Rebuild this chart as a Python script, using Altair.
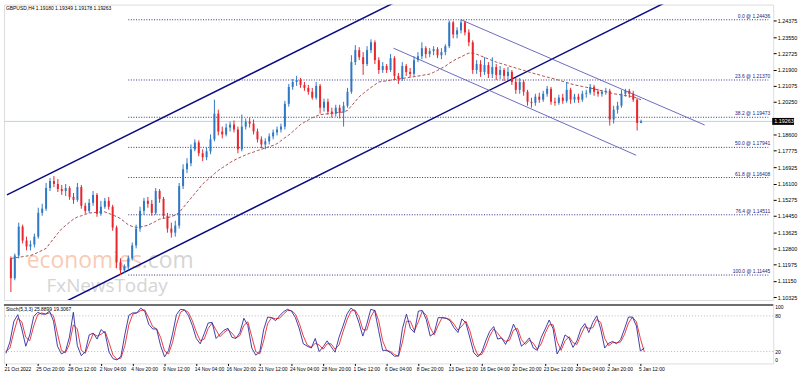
import json
import altair as alt
import pandas as pd

# ---------------- data ----------------
OPEN = [1.1229,1.1128,1.1244,1.1391,1.1320,1.1290,1.1300,1.1340,1.1461,1.1482,
1.1587,1.1623,1.1608,1.1582,1.1572,1.1587,1.1542,1.1527,1.1592,1.1497,
1.1471,1.1512,1.1552,1.1456,1.1492,1.1522,1.1492,1.1386,1.1209,1.1169,
1.1189,1.1229,1.1295,1.1381,1.1471,1.1522,1.1507,1.1461,1.1572,1.1532,
1.1446,1.1381,1.1360,1.1396,1.1597,1.1683,1.1713,1.1784,1.1819,1.1764,
1.1744,1.1774,1.1835,1.1966,1.1875,1.1860,1.1895,1.1910,1.1885,1.1784,
1.1900,1.1925,1.1915,1.1875,1.1835,1.1809,1.1825,1.1850,1.1870,1.1885,
1.1900,1.2016,1.2102,1.2127,1.2137,1.2112,1.2097,1.2077,1.2047,1.2107,
1.1996,1.2026,1.1976,1.1966,1.1996,1.1971,1.2006,1.2077,1.2228,1.2289,
1.2253,1.2218,1.2289,1.2329,1.2238,1.2188,1.2208,1.2188,1.2248,1.2158,
1.2142,1.2208,1.2178,1.2168,1.2238,1.2258,1.2299,1.2269,1.2284,1.2294,
1.2263,1.2279,1.2309,1.2430,1.2369,1.2390,1.2430,1.2379,1.2329,1.2188,
1.2218,1.2178,1.2213,1.2168,1.2203,1.2163,1.2188,1.2158,1.2178,1.2127,
1.2087,1.2127,1.2077,1.2026,1.2021,1.2052,1.2037,1.2067,1.2092,1.2026,
1.2021,1.2047,1.2031,1.2087,1.2037,1.2052,1.2037,1.2067,1.2072,1.2102,
1.2077,1.2067,1.2077,1.2082,1.1936,1.1986,1.2006,1.2067,1.2082,1.2067,
1.2037,1.19180]
HIGH = [1.1239,1.1254,1.1411,1.1401,1.1340,1.1320,1.1355,1.1487,1.1507,1.1613,
1.1638,1.1648,1.1633,1.1603,1.1608,1.1597,1.1562,1.1613,1.1603,1.1512,
1.1532,1.1572,1.1562,1.1522,1.1537,1.1542,1.1502,1.1396,1.1229,1.1199,
1.1244,1.1310,1.1401,1.1492,1.1537,1.1542,1.1527,1.1587,1.1582,1.1542,
1.1461,1.1411,1.1421,1.1613,1.1708,1.1739,1.1809,1.1835,1.1830,1.1784,
1.1794,1.1860,1.2037,1.1986,1.1900,1.1915,1.1925,1.1931,1.1900,1.1961,
1.1941,1.1946,1.1936,1.1890,1.1850,1.1840,1.1865,1.1885,1.1900,1.1915,
1.2031,1.2117,1.2142,1.2158,1.2147,1.2127,1.2112,1.2097,1.2127,1.2117,
1.2042,1.2042,1.1996,1.2011,1.2011,1.2026,1.2097,1.2263,1.2314,1.2304,
1.2279,1.2309,1.2344,1.2339,1.2253,1.2228,1.2218,1.2269,1.2258,1.2173,
1.2228,1.2218,1.2198,1.2258,1.2279,1.2329,1.2309,1.2299,1.2309,1.2304,
1.2299,1.2319,1.2440,1.2438,1.2405,1.24436,1.2438,1.2395,1.2339,1.2238,
1.2238,1.2253,1.2228,1.2253,1.2218,1.2208,1.2198,1.2203,1.2188,1.2147,
1.2147,1.2137,1.2087,1.2047,1.2067,1.2072,1.2082,1.2107,1.2102,1.2047,
1.2062,1.2067,1.2127,1.2097,1.2067,1.2067,1.2082,1.2087,1.2117,1.2112,
1.2092,1.2087,1.2097,1.2092,1.2006,1.2026,1.2087,1.2092,1.2092,1.2082,
1.2047,1.19349]
LOW = [1.1058,1.1118,1.1229,1.1305,1.1270,1.1270,1.1285,1.1330,1.1446,1.1471,
1.1572,1.1592,1.1567,1.1552,1.1547,1.1527,1.1507,1.1517,1.1482,1.1456,
1.1461,1.1497,1.1441,1.1446,1.1482,1.1477,1.1370,1.1179,1.11445,1.1154,
1.1169,1.1219,1.1280,1.1365,1.1451,1.1487,1.1446,1.1451,1.1512,1.1431,
1.1360,1.1335,1.1340,1.1381,1.1582,1.1663,1.1698,1.1774,1.1749,1.1724,
1.1729,1.1759,1.1825,1.1855,1.1840,1.1850,1.1875,1.1870,1.1764,1.1774,
1.1885,1.1895,1.1860,1.1819,1.1789,1.1784,1.1809,1.1835,1.1855,1.1870,
1.1885,1.2001,1.2087,1.2107,1.2097,1.2082,1.2062,1.2037,1.2037,1.1966,
1.1976,1.1961,1.1946,1.1951,1.1941,1.1900,1.1996,1.2067,1.2213,1.2238,
1.2163,1.2208,1.2274,1.2218,1.2168,1.2173,1.2173,1.2178,1.2137,1.2117,
1.2132,1.2158,1.2153,1.2158,1.2228,1.2243,1.2248,1.2253,1.2263,1.2248,
1.2243,1.2263,1.2299,1.2349,1.2349,1.2374,1.2364,1.2309,1.2168,1.2168,
1.2153,1.2163,1.2147,1.2147,1.2137,1.2142,1.2132,1.2137,1.2112,1.2067,
1.2067,1.2057,1.2006,1.1996,1.2006,1.2021,1.2026,1.2052,1.2011,1.2006,
1.2011,1.2016,1.2021,1.2016,1.2021,1.2021,1.2026,1.2047,1.2062,1.2057,
1.2052,1.2052,1.2062,1.1905,1.1915,1.1966,1.1996,1.2052,1.2047,1.2026,
1.1880,1.19178]
CLOSE = [1.1128,1.1244,1.1391,1.1320,1.1290,1.1300,1.1340,1.1461,1.1482,1.1587,
1.1623,1.1608,1.1582,1.1572,1.1587,1.1542,1.1527,1.1592,1.1497,1.1471,
1.1512,1.1552,1.1456,1.1492,1.1522,1.1492,1.1386,1.1209,1.1169,1.1189,
1.1229,1.1295,1.1381,1.1471,1.1522,1.1507,1.1461,1.1572,1.1532,1.1446,
1.1381,1.1360,1.1396,1.1597,1.1683,1.1713,1.1784,1.1819,1.1764,1.1744,
1.1774,1.1835,1.1966,1.1875,1.1860,1.1895,1.1910,1.1885,1.1784,1.1900,
1.1925,1.1915,1.1875,1.1835,1.1809,1.1825,1.1850,1.1870,1.1885,1.1900,
1.2016,1.2102,1.2127,1.2137,1.2112,1.2097,1.2077,1.2047,1.2107,1.1996,
1.2026,1.1976,1.1966,1.1996,1.1971,1.2006,1.2077,1.2228,1.2289,1.2253,
1.2218,1.2289,1.2329,1.2238,1.2188,1.2208,1.2188,1.2248,1.2158,1.2142,
1.2208,1.2178,1.2168,1.2238,1.2258,1.2299,1.2269,1.2284,1.2294,1.2263,
1.2279,1.2309,1.2430,1.2369,1.2390,1.2430,1.2379,1.2329,1.2188,1.2218,
1.2178,1.2213,1.2168,1.2203,1.2163,1.2188,1.2158,1.2178,1.2127,1.2087,
1.2127,1.2077,1.2026,1.2021,1.2052,1.2037,1.2067,1.2092,1.2026,1.2021,
1.2047,1.2031,1.2087,1.2037,1.2052,1.2037,1.2067,1.2072,1.2102,1.2077,
1.2067,1.2077,1.2082,1.1936,1.1986,1.2006,1.2067,1.2082,1.2067,1.2037,
1.1918,1.19263]
MA = [1.1229,1.1232,1.1235,1.1238,1.1241,1.1244,1.1251,1.1261,1.1270,1.1280,
1.1306,1.1332,1.1357,1.1380,1.1397,1.1413,1.1429,1.1440,1.1446,1.1453,
1.1460,1.1462,1.1464,1.1465,1.1466,1.1458,1.1450,1.1442,1.1432,1.1416,
1.1400,1.1392,1.1387,1.1389,1.1393,1.1398,1.1408,1.1418,1.1429,1.1433,
1.1436,1.1442,1.1450,1.1462,1.1487,1.1511,1.1535,1.1559,1.1583,1.1608,
1.1625,1.1642,1.1660,1.1677,1.1690,1.1703,1.1717,1.1728,1.1738,1.1747,
1.1756,1.1764,1.1770,1.1778,1.1784,1.1791,1.1798,1.1804,1.1813,1.1828,
1.1843,1.1857,1.1874,1.1892,1.1910,1.1922,1.1934,1.1945,1.1953,1.1961,
1.1963,1.1965,1.1967,1.1970,1.1972,1.1974,1.1982,1.2005,1.2028,1.2052,
1.2068,1.2084,1.2099,1.2113,1.2127,1.2130,1.2133,1.2136,1.2139,1.2142,
1.2145,1.2148,1.2151,1.2154,1.2157,1.2160,1.2164,1.2167,1.2176,1.2186,
1.2197,1.2207,1.2222,1.2234,1.2246,1.2254,1.2265,1.2274,1.2275,1.2268,
1.2260,1.2252,1.2244,1.2236,1.2228,1.2222,1.2216,1.2210,1.2204,1.2198,
1.2192,1.2186,1.2180,1.2174,1.2168,1.2163,1.2157,1.2152,1.2147,1.2142,
1.2136,1.2130,1.2124,1.2118,1.2112,1.2108,1.2104,1.2100,1.2096,1.2092,
1.2087,1.2082,1.2077,1.2072,1.2067,1.2064,1.2061,1.2058,1.2055,1.2052,
1.2044,1.2037]
STOCH_K = [17,36,71,82,58,29,48,79,86,83,
83,88,71,29,16,20,44,86,30,13,
20,48,51,41,57,51,19,8,6,12,
49,81,85,85,93,88,66,58,58,30,
11,22,49,82,91,90,81,64,42,33,
50,68,69,42,49,56,59,44,42,52,
76,64,26,14,19,57,78,77,72,80,
87,91,88,77,58,33,29,26,42,20,
28,38,28,19,44,63,83,93,88,69,
46,66,91,89,55,22,22,18,12,13,
59,83,59,52,88,89,74,46,51,77,
77,76,72,60,52,75,68,43,18,11,
19,38,54,62,41,43,32,46,66,52,
29,35,43,26,22,44,58,73,58,16,
28,48,43,27,38,58,67,52,69,80,
58,26,34,37,33,40,58,78,78,63,
21,25.8899]
STOCH_D = [20,26,53,76,70,44,38,63,82,85,
83,85,80,50,22,18,32,65,58,22,
17,34,50,46,49,54,35,14,7,9,
30,65,83,85,89,90,77,62,58,44,
21,16,35,65,86,90,86,72,53,38,
41,59,68,56,45,52,57,51,43,47,
64,70,45,20,16,38,67,77,75,76,
83,89,89,83,67,46,31,27,34,31,
24,33,33,24,31,53,73,88,90,79,
57,56,78,90,72,38,22,20,15,12,
36,71,71,55,70,88,81,60,48,64,
77,76,74,66,56,63,71,55,30,14,
15,28,46,58,51,42,37,39,56,59,
40,32,39,34,24,33,51,65,65,37,
22,38,45,35,32,48,62,59,60,74,
69,42,30,35,35,36,49,68,78,70,
42,19.3067]
DATE_LABELS = ["21 Oct 2022", "25 Oct 20:00", "28 Oct 12:00", "2 Nov 04:00", "4 Nov 20:00",
               "9 Nov 12:00", "14 Nov 04:00", "16 Nov 20:00", "21 Nov 12:00", "24 Nov 04:00",
               "28 Nov 20:00", "1 Dec 12:00", "6 Dec 04:00", "8 Dec 20:00", "13 Dec 12:00",
               "16 Dec 04:00", "20 Dec 20:00", "23 Dec 12:00", "29 Dec 04:00", "2 Jan 20:00",
               "5 Jan 12:00"]
LABEL_EVERY = 8
PRICE_TICKS = [1.24375, 1.23550, 1.22725, 1.21900, 1.21075, 1.20250, 1.18600, 1.17775,
               1.16925, 1.16100, 1.15275, 1.14450, 1.13625, 1.12800, 1.11975, 1.11150, 1.10325]
FIB_LEVELS = [0.0, 23.6, 38.2, 50.0, 61.8, 76.4, 100.0]
FIB_PRICES = [1.24436, 1.21370, 1.19473, 1.17941, 1.16408, 1.14511, 1.11445]
FIB_START = 30
BID = 1.19263
TITLE = "GBPUSD,H4  1.19180 1.19349 1.19178 1.19263"
STOCH_TITLE = "Stoch(5,3,3) 25.8899 19.3067"
STOCH_LEVELS = [20, 80]
STOCH_LABELS = ["100", "80", "20", "0"]
# trend lines: (name, bar index, price)
TRENDLINES = [
    ("up_upper", -1, 1.1552), ("up_upper", 99, 1.2541),
    ("up_lower", 9, 1.0960), ("up_lower", 169, 1.2549),
    ("dn_upper", 115, 1.24436), ("dn_upper", 177.25, 1.1908),
    ("dn_lower", 97.75, 1.2299), ("dn_lower", 159.75, 1.1754),
]

# ---------------- styling ----------------
W = 776
H_MAIN = 298
H_STOCH = 60
X_DOMAIN = [-0.5, 193.5]
Y_DOMAIN = [1.10174, 1.25207]
BULL = "#2f78c4"
BEAR = "#e8262e"
FONT = "Liberation Sans"
STOCH_LABEL_Y = [3.5, 12, 48, 56.5]   # pixel rows of the right-hand stochastic labels

n = len(CLOSE)
bars = pd.DataFrame({"i": list(range(n)), "o": OPEN, "h": HIGH, "l": LOW, "c": CLOSE, "ma": MA,
                     "k": STOCH_K, "d": STOCH_D})
bars["dir"] = ["up" if c >= o else "down" for o, c in zip(OPEN, CLOSE)]

xs = alt.Scale(domain=X_DOMAIN, nice=False, zero=False)
ys = alt.Scale(domain=Y_DOMAIN, nice=False, zero=False)
ss = alt.Scale(domain=[0, 100], nice=False, zero=False)
col = alt.Color("dir:N", scale=alt.Scale(domain=["up", "down"], range=[BULL, BEAR]), legend=None)

AX_MAIN = alt.Axis(orient="right", values=PRICE_TICKS, format=".5f", labelFontSize=5.5,
                   labelFont=FONT, labelColor="#000", tickColor="#000", tickSize=3, domain=False,
                   grid=False, labelPadding=1, labelOverlap=False, title=None)
label_expr = f"{json.dumps(DATE_LABELS)}[round(datum.value/{LABEL_EVERY})]"
AX_TIME = alt.Axis(values=[LABEL_EVERY * j for j in range(len(DATE_LABELS))], labelExpr=label_expr,
                   labelFontSize=5, labelFont=FONT, labelColor="#000", labelAlign="left",
                   labelOffset=-2, labelBaseline="top", labelPadding=1, tickSize=2, tickColor="#000",
                   domain=False, grid=False, labelOverlap=False, labelFlush=False, title=None)


def ymain(field):
    return alt.Y(field, scale=ys, axis=AX_MAIN)


def xmain(field):
    return alt.X(field, scale=xs, axis=None)


base = alt.Chart(bars)

wicks = base.mark_rule(strokeWidth=1).encode(x=xmain("i:Q"), y=ymain("l:Q"), y2="h:Q", color=col)
bodies = base.mark_bar(size=2).encode(x=xmain("i:Q"), y=ymain("o:Q"), y2="c:Q", color=col)
ma = base.mark_line(color="#a03a3a", strokeWidth=0.9, strokeDash=[3, 2]).encode(
    x=xmain("i:Q"), y=ymain("ma:Q"))

bid_df = pd.DataFrame({"p": [BID], "t": [f"{BID:.5f}"]})
bid_line = alt.Chart(bid_df).mark_rule(color="#a9d9ec", strokeWidth=1).encode(y=ymain("p:Q"))
bid_box = alt.Chart(bid_df).mark_rect(color="#000", yOffset=-3.5, y2Offset=3.5, clip=False).encode(
    x=alt.value(W - 1), x2=alt.value(W + 21), y=ymain("p:Q"), y2="p:Q")
bid_text = alt.Chart(bid_df).mark_text(color="#fff", fontSize=5.5, font=FONT, align="left",
                                       baseline="middle", clip=False).encode(
    x=alt.value(W + 1), y=ymain("p:Q"), text="t:N")

fib_df = pd.DataFrame({"p": FIB_PRICES, "lvl": FIB_LEVELS,
                       "start": [FIB_START] * len(FIB_PRICES), "end": [X_DOMAIN[1]] * len(FIB_PRICES)})
fib_df["t"] = [f"{l:.1f} @ {p:.5f}" for l, p in zip(FIB_LEVELS, FIB_PRICES)]
fib_lines = alt.Chart(fib_df).mark_rule(color="#1a1a7a", strokeWidth=0.9, strokeDash=[1, 1.6]).encode(
    x=xmain("start:Q"), x2="end:Q", y=ymain("p:Q"))
fib_text = alt.Chart(fib_df).mark_text(color="#1a1a7a", fontSize=5, font=FONT, align="right",
                                       baseline="bottom", dy=-1).encode(
    x=alt.value(W - 3), y=ymain("p:Q"), text="t:N")

tl = pd.DataFrame(TRENDLINES, columns=["name", "i", "p"])
thick = alt.Chart(tl[tl["name"].str.startswith("up")]).mark_line(
    color="#0b0b85", strokeWidth=1.5, clip=True).encode(x=xmain("i:Q"), y=ymain("p:Q"), detail="name:N")
thin = alt.Chart(tl[tl["name"].str.startswith("dn")]).mark_line(
    color="#5a5ab8", strokeWidth=0.9, clip=True).encode(x=xmain("i:Q"), y=ymain("p:Q"), detail="name:N")

title = alt.Chart(pd.DataFrame({"t": [TITLE]})).mark_text(
    fontSize=5, font=FONT, align="left", baseline="middle", color="#000").encode(
    x=alt.value(2), y=alt.value(3.5), text="t:N")
wm1 = alt.Chart(pd.DataFrame({"t": ["economies"]})).mark_text(
    fontSize=23, font="Open Sans", align="left", baseline="alphabetic", color="#f4a27a",
    opacity=0.55).encode(x=alt.value(23), y=alt.value(266), text="t:N")
wm2 = alt.Chart(pd.DataFrame({"t": [".com"]})).mark_text(
    fontSize=23, font="Open Sans", align="left", baseline="alphabetic", color="#c4c4c4",
    opacity=0.7).encode(x=alt.value(139), y=alt.value(266), text="t:N")
wm3 = alt.Chart(pd.DataFrame({"t": ["FxNewsToday"]})).mark_text(
    fontSize=19, font="Open Sans", align="left", baseline="alphabetic", color="#c4c4c4",
    opacity=0.7).encode(x=alt.value(43), y=alt.value(290), text="t:N")

main = alt.layer(wm1, wm2, wm3, bid_line, fib_lines, fib_text, thick, thin, ma, wicks, bodies,
                 title, bid_box, bid_text).properties(width=W, height=H_MAIN)

# ---------------- stochastic panel ----------------
k_line = base.mark_line(color="#2b2b9e", strokeWidth=0.9).encode(
    x=alt.X("i:Q", scale=xs, axis=AX_TIME), y=alt.Y("k:Q", scale=ss, axis=None))
d_line = base.mark_line(color="#e8262e", strokeWidth=0.9).encode(
    x=alt.X("i:Q", scale=xs, axis=AX_TIME), y=alt.Y("d:Q", scale=ss, axis=None))
lv = alt.Chart(pd.DataFrame({"v": STOCH_LEVELS})).mark_rule(
    color="#a8a8a8", strokeWidth=0.8, strokeDash=[1, 2]).encode(y=alt.Y("v:Q", scale=ss, axis=None))
sep = alt.Chart(pd.DataFrame({"s": [0]})).mark_rule(color="#6e6e6e", strokeWidth=2).encode(
    x=alt.value(0), x2=alt.value(W), y=alt.value(1))
lbls = [alt.Chart(pd.DataFrame({"t": [t]})).mark_text(
    fontSize=5, font=FONT, align="left", baseline="middle", color="#000", clip=False).encode(
    x=alt.value(W + 2), y=alt.value(yv), text="t:N") for t, yv in zip(STOCH_LABELS, STOCH_LABEL_Y)]
stitle = alt.Chart(pd.DataFrame({"t": [STOCH_TITLE]})).mark_text(
    fontSize=5, font=FONT, align="left", baseline="middle", color="#000").encode(
    x=alt.value(2), y=alt.value(5.5), text="t:N")
stoch = alt.layer(lv, d_line, k_line, sep, stitle, *lbls).properties(width=W, height=H_STOCH)

chart = alt.vconcat(main, stoch, spacing=1).properties(
    padding={"left": 2, "top": 2, "right": 0, "bottom": 0}, background="white"
).configure_view(stroke="#000", strokeWidth=1).configure(font=FONT)

chart.save("out.html", embed_options={"renderer": "svg", "actions": False})
